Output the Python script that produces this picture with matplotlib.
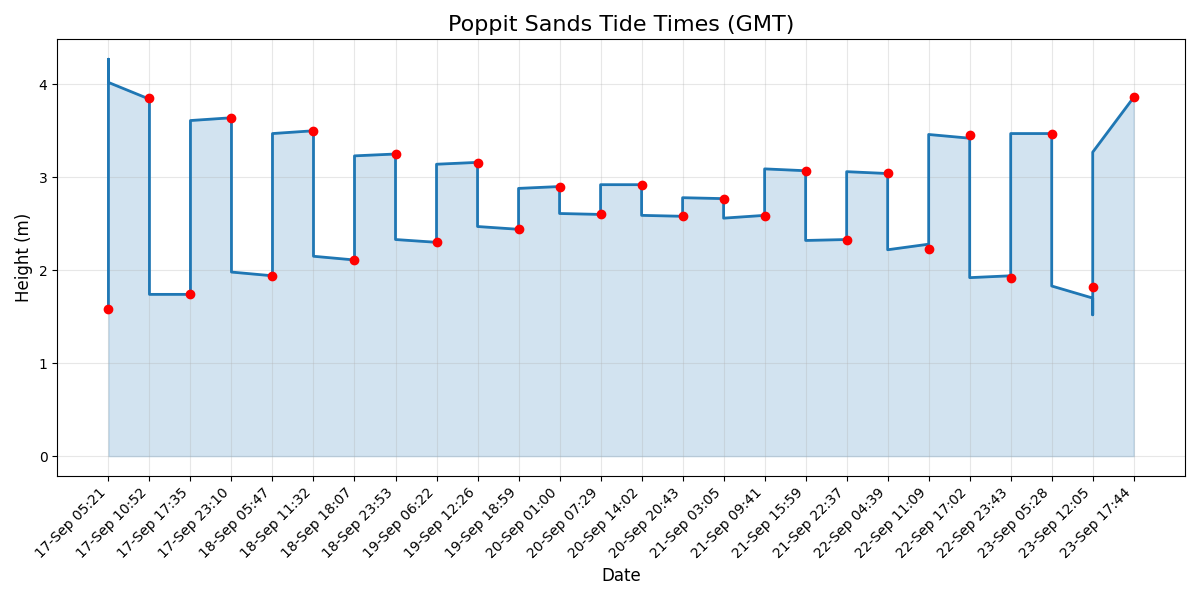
import matplotlib.pyplot as plt

LABELS = ["17-Sep 05:21", "17-Sep 10:52", "17-Sep 17:35", "17-Sep 23:10", "18-Sep 05:47",
          "18-Sep 11:32", "18-Sep 18:07", "18-Sep 23:53", "19-Sep 06:22", "19-Sep 12:26",
          "19-Sep 18:59", "20-Sep 01:00", "20-Sep 07:29", "20-Sep 14:02", "20-Sep 20:43",
          "21-Sep 03:05", "21-Sep 09:41", "21-Sep 15:59", "21-Sep 22:37", "22-Sep 04:39",
          "22-Sep 11:09", "22-Sep 17:02", "22-Sep 23:43", "23-Sep 05:28", "23-Sep 12:05",
          "23-Sep 17:44"]

# tide heights at each tide time (red dots)
TIDE_HEIGHTS = [1.58, 3.85, 1.74, 3.64, 1.94, 3.50, 2.11, 3.25, 2.30, 3.15, 2.44, 2.89, 2.60,
                2.92, 2.58, 2.77, 2.58, 3.07, 2.32, 3.05, 2.23, 3.45, 1.92, 3.46, 1.82, 3.86]

# curve level at start / end of each interval between tide times
SEG_START = [4.02, 1.74, 3.61, 1.98, 3.47, 2.15, 3.23, 2.33, 3.14, 2.47, 2.88, 2.61, 2.92,
             2.59, 2.78, 2.56, 3.09, 2.32, 3.06, 2.22, 3.46, 1.92, 3.47, 1.83, 3.27]
SEG_END = [3.84, 1.74, 3.64, 1.94, 3.50, 2.11, 3.25, 2.30, 3.16, 2.44, 2.90, 2.60, 2.92,
           2.58, 2.77, 2.59, 3.07, 2.33, 3.04, 2.28, 3.42, 1.94, 3.47, 1.70, 3.86]
FIRST_SPIKE = 4.27
LAST_DIP = 1.52

xs = [0, 0]
ys = [TIDE_HEIGHTS[0], FIRST_SPIKE]
for i, (a, b) in enumerate(zip(SEG_START, SEG_END)):
    if i == len(SEG_START) - 1:
        xs.append(i)
        ys.append(LAST_DIP)
    xs += [i, i + 1]
    ys += [a, b]

fig, ax = plt.subplots(figsize=(12, 6), dpi=100)
ax.fill_between(xs, ys, alpha=0.2, color='C0')
ax.plot(xs, ys, color='C0', linewidth=2)
ax.plot(range(len(LABELS)), TIDE_HEIGHTS, 'o', color='red', markersize=6, zorder=3)

ax.set_xticks(range(len(LABELS)))
ax.set_xticklabels(LABELS, rotation=45, ha='right')
ax.set_title('Poppit Sands Tide Times (GMT)', fontsize=16)
ax.set_xlabel('Date', fontsize=12)
ax.set_ylabel('Height (m)', fontsize=12)
ax.grid(True, alpha=0.3)

plt.tight_layout()
plt.savefig('out.png', dpi=100)
